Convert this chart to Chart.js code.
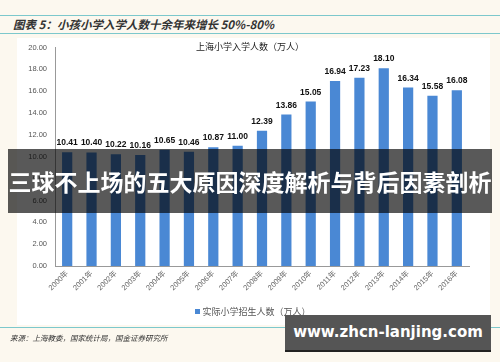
<!DOCTYPE html>
<html>
<head>
<meta charset="utf-8">
<script src="https://cdn.jsdelivr.net/npm/chart.js@4"></script>
<style>
  body { margin: 0; width: 500px; height: 362px; background: #fcf8ef; position: relative; overflow: hidden; font-family: "Noto Sans CJK SC", sans-serif; }
  .linha { position: absolute; left: 0; width: 500px; height: 1px; background: #7cc8cc; }
  #titulo { position: absolute; left: 13px; top: 16px; font-size: 11.5px; font-weight: bold; font-style: italic; color: #333; }
  #painel { position: absolute; left: 17px; top: 38px; width: 473px; height: 287px; background: #fff; }
  #grafico { position: absolute; left: 17px; top: 35px; }
  #tituloGrafico { position: absolute; left: 0; width: 500px; top: 40px; text-align: center; font-size: 9px; color: #222; }
  #legenda { position: absolute; left: 0; width: 506px; top: 305px; text-align: center; font-size: 9px; color: #555; }
  #legenda span { display: inline-block; width: 5px; height: 5px; background: #4a88d4; margin-right: 2px; vertical-align: 1px; }
  #fonte { position: absolute; left: 10px; top: 332px; font-size: 7.5px; font-style: italic; color: #333; }
  #faixa { position: absolute; left: 8px; top: 149px; width: 484px; height: 64px; background: rgba(0,0,0,0.65); color: #fff; font-size: 23px; font-weight: bold; line-height: 64px; text-align: center; white-space: nowrap; }
  #site { position: absolute; left: 285px; top: 315px; width: 206px; height: 37px; background: #555; color: #fff; font-family: "DejaVu Sans", sans-serif; font-size: 15px; font-weight: bold; line-height: 34px; text-align: center; white-space: nowrap; border-bottom: 2px solid #222; box-sizing: border-box; }
</style>
</head>
<body>
<div class="linha" style="top:15px"></div>
<div id="titulo">图表 5：小孩小学入学人数十余年来增长 50%-80%</div>
<div class="linha" style="top:33px"></div>
<div id="painel"></div>
<canvas id="grafico" width="473" height="290"></canvas>
<div id="tituloGrafico">上海小学入学人数（万人）</div>
<div id="legenda"><span></span>实际小学招生人数（万人）</div>
<div class="linha" style="top:327px"></div>
<div id="fonte">来源：上海教委，国家统计局，国金证券研究所</div>
<div id="faixa">三球不上场的五大原因深度解析与背后因素剖析</div>
<div id="site">www.zhcn-lanjing.com</div>
<script>
const anos = ["2000年", "2001年", "2002年", "2003年", "2004年", "2005年", "2006年", "2007年", "2008年", "2009年", "2010年", "2011年", "2012年", "2013年", "2014年", "2015年", "2016年"]
const alunos = [10.41, 10.40, 10.22, 10.16, 10.65, 10.46, 10.87, 11.00, 12.39, 13.86, 15.05, 16.94, 17.23, 18.10, 16.34, 15.58, 16.08]
const eixoY = [0, 2, 4, 6, 8, 10, 12, 14, 16, 18, 20]

// escreve o valor em cima de cada barra
const rotulos = {
    id: "rotulos",
    afterDatasetsDraw(chart) {
        const ctx = chart.ctx
        const meta = chart.getDatasetMeta(0)
        ctx.save()
        ctx.font = "bold 8.5px 'Liberation Sans', Arial"
        ctx.fillStyle = "#111"
        ctx.textAlign = "center"
        ctx.textBaseline = "bottom"
        meta.data.forEach((barra, i) => {
            ctx.fillText(alunos[i].toFixed(2), barra.x, barra.y - 5)
        })
        ctx.restore()
    }
}

new Chart(document.getElementById("grafico"), {
    type: "bar",
    data: {
        labels: anos,
        datasets: [{
            label: "实际小学招生人数（万人）",
            data: alunos,
            backgroundColor: "#4a88d4",
            categoryPercentage: 1,
            barPercentage: 0.42
        }]
    },
    options: {
        responsive: false,
        animation: false,
        layout: { padding: { top: 0, right: 21, left: 0, bottom: 19 } },
        plugins: {
            legend: { display: false },
            tooltip: { enabled: false }
        },
        scales: {
            x: {
                grid: { display: false, drawTicks: false },
                border: { color: "#999" },
                ticks: {
                    maxRotation: 45,
                    minRotation: 45,
                    padding: 3,
                    color: "#666",
                    font: { size: 7.5, family: "'Liberation Sans', 'Noto Sans CJK SC'" }
                },
                afterFit(escala) { escala.height = 40 }
            },
            y: {
                min: 0,
                max: 20,
                afterBuildTicks(escala) { escala.ticks = eixoY.map(v => ({ value: v })) },
                grid: { display: false, drawTicks: false },
                border: { color: "#999" },
                ticks: {
                    padding: 8,
                    color: "#555",
                    font: { size: 7.5, family: "'Liberation Sans', Arial" },
                    callback: v => v.toFixed(2)
                },
                afterFit(escala) { escala.width = 38 }
            }
        }
    },
    plugins: [rotulos]
})
</script>
</body>
</html>
